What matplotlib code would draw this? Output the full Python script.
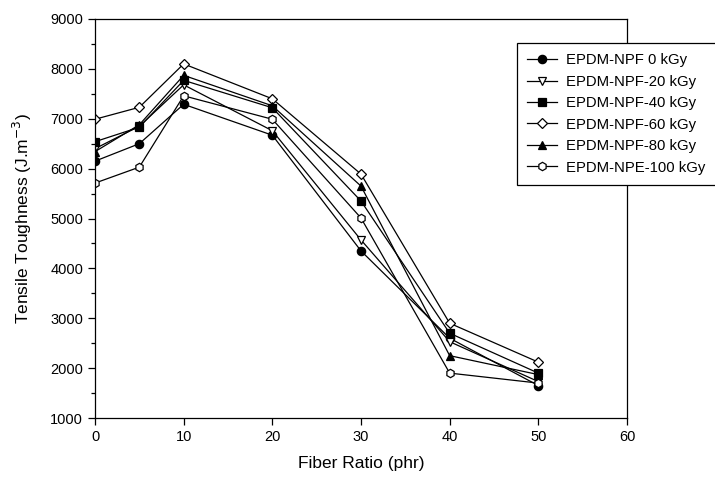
import matplotlib
matplotlib.use("Agg")
import matplotlib.pyplot as plt
from matplotlib.ticker import MultipleLocator

plt.rcParams["font.family"] = ["Liberation Sans", "DejaVu Sans"]

# data
fiber_ratio = [0, 5, 10, 20, 30, 40, 50]
npf_0 = [6150, 6500, 7290, 6670, 4350, 2600, 1650]
npf_20 = [6400, 6850, 7680, 6760, 4570, 2530, 1730]
npf_40 = [6540, 6830, 7770, 7220, 5350, 2700, 1900]
npf_60 = [6990, 7230, 8100, 7400, 5890, 2900, 2120]
npf_80 = [6340, 6880, 7870, 7260, 5650, 2250, 1870]
npe_100 = [5710, 6030, 7460, 6990, 5010, 1900, 1700]

series = [
    ("EPDM-NPF 0 kGy", npf_0, "o", "black"),
    ("EPDM-NPF-20 kGy", npf_20, "v", "white"),
    ("EPDM-NPF-40 kGy", npf_40, "s", "black"),
    ("EPDM-NPF-60 kGy", npf_60, "D", "white"),
    ("EPDM-NPF-80 kGy", npf_80, "^", "black"),
    ("EPDM-NPE-100 kGy", npe_100, "h", "white"),
]

fig = plt.figure(figsize=(7.15, 4.84), dpi=100)
ax = fig.add_axes([95 / 715, 66 / 484, 532 / 715, 399 / 484])

for label, vals, marker, face in series:
    ms = 5.5 if marker == "D" else 6
    ax.plot(fiber_ratio, vals, color="black", lw=0.9, marker=marker,
            markersize=ms, markerfacecolor=face, markeredgecolor="black",
            markeredgewidth=0.9, label=label)

ax.set_xlim(0, 60)
ax.set_ylim(1000, 9000)
ax.xaxis.set_major_locator(MultipleLocator(10))
ax.yaxis.set_major_locator(MultipleLocator(1000))
ax.yaxis.set_minor_locator(MultipleLocator(500))
ax.tick_params(axis="both", which="major", direction="out", length=5,
               width=0.9, labelsize=10.5, top=False, right=False)
ax.tick_params(axis="y", which="minor", direction="out", length=3, width=0.9)
for sp in ax.spines.values():
    sp.set_linewidth(0.9)

ax.set_xlabel("Fiber Ratio (phr)", fontsize=12.5, labelpad=9)
ax.set_ylabel("Tensile Toughness (J.m$^{-3}$)", fontsize=12.5, labelpad=12)

leg = fig.legend(loc="upper left", bbox_to_anchor=(517 / 715, 1 - 43 / 484),
                 fontsize=10.7, frameon=True, fancybox=False, edgecolor="black",
                 framealpha=1, borderaxespad=0, handlelength=2.0,
                 labelspacing=0.5, borderpad=0.7, handletextpad=0.6)
leg.get_frame().set_linewidth(0.9)

fig.savefig("out.png", dpi=100)
